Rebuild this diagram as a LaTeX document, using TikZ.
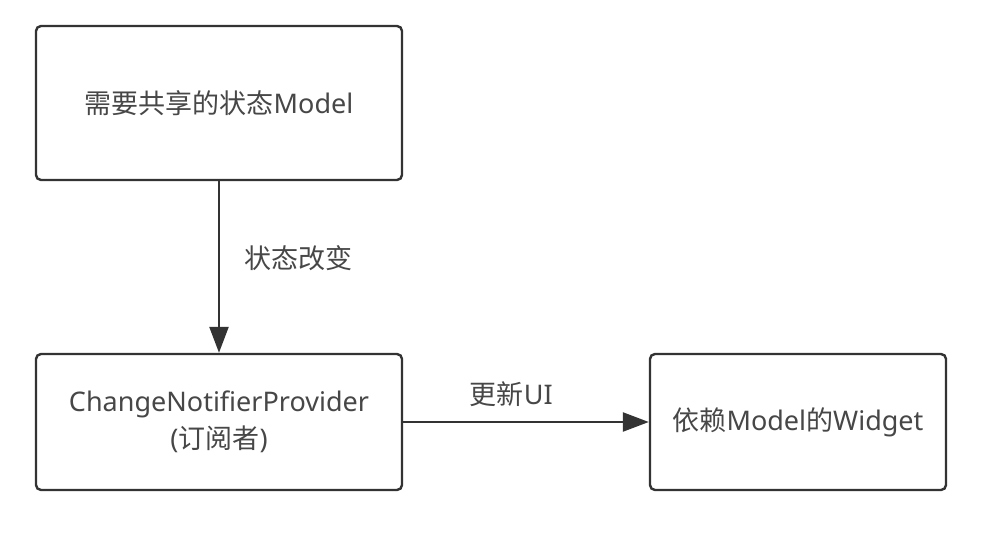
\documentclass[tikz,border=0pt]{standalone}
\usepackage{fontspec}
\setmainfont{Noto Sans}
\newfontfamily\cjk{Noto Sans CJK SC}
\usetikzlibrary{arrows.meta}
\definecolor{linec}{HTML}{333333}
\definecolor{textc}{HTML}{474747}
\tikzset{
  box/.style={draw=linec, line width=2.4pt, rounded corners=5pt, fill=white,
    text=textc, font=\fontsize{27}{37}\selectfont, align=center, inner sep=0pt},
  lbl/.style={text=textc, font=\fontsize{27}{30}\selectfont, inner sep=0pt},
  arr/.style={draw=linec, line width=2.4pt, -{Triangle[length=26pt,width=19pt]}}
}
\begin{document}
\begin{tikzpicture}[x=1pt,y=-1pt]
\useasboundingbox (0,0) rectangle (984,534);
\node[box, minimum width=366pt, minimum height=154pt] (model) at (219,103) {{\cjk 需要共享的状态}Model};
\node[box, minimum width=366pt, minimum height=136pt] (prov) at (219,422) {ChangeNotifierProvider\\({\cjk 订阅者})};
\node[box, minimum width=296pt, minimum height=136pt] (widget) at (798,422) {{\cjk 依赖}Model{\cjk 的}Widget};
\draw[arr] (model) -- (prov) node[lbl, pos=0.45, right=24pt] (l1) {\cjk 状态改变};
\draw[arr] (prov) -- (widget) node[lbl, pos=0.44, above=14pt] (l2) {{\cjk 更新}UI};
\end{tikzpicture}
\end{document}
